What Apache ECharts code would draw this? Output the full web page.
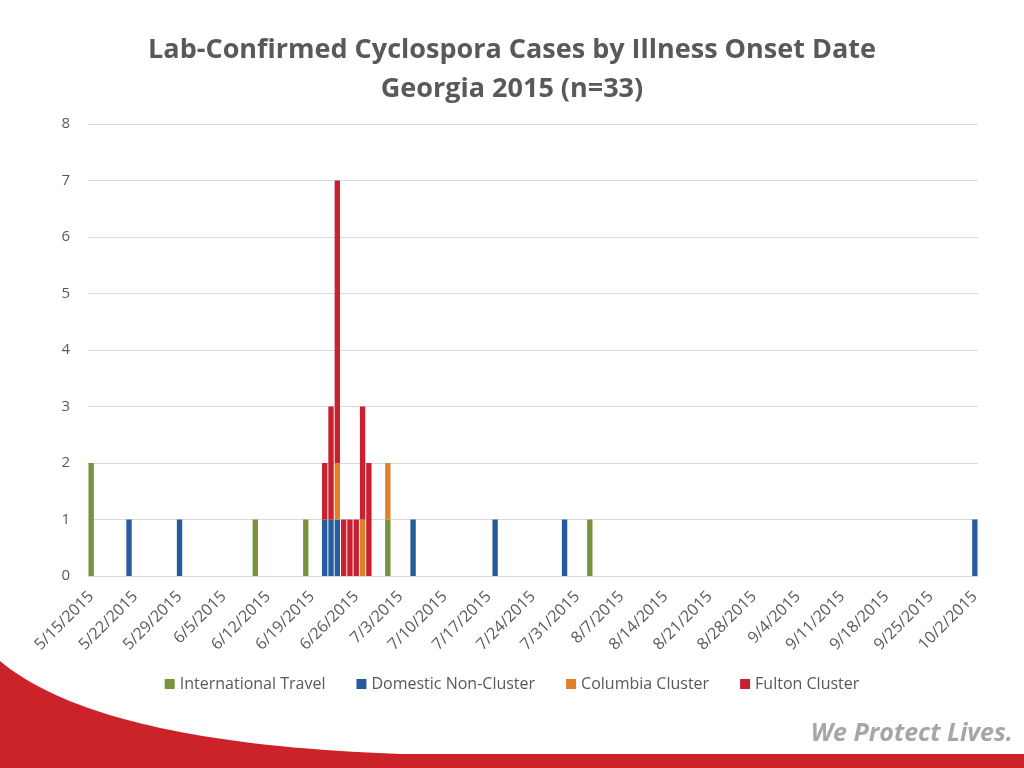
<!DOCTYPE html>
<html>
<head>
<meta charset="utf-8">
<script src="https://cdn.jsdelivr.net/npm/echarts@6/dist/echarts.min.js"></script>
<style>html,body{margin:0;padding:0;background:#fff;}#c{width:1024px;height:768px;}</style>
</head>
<body>
<div id="c"></div>
<script>
// Category range (daily onset dates) and tick labels
const startDate = '5/15/2015';
const endDate = '10/2/2015';
const yTicks = [0, 1, 2, 3, 4, 5, 6, 7, 8];

// Series values: [onset date, cases]
const intlTravel = [['5/15/2015', 2], ['6/10/2015', 1], ['6/18/2015', 1], ['7/1/2015', 1], ['8/2/2015', 1]];
const domesticNonCluster = [['5/21/2015', 1], ['5/29/2015', 1], ['6/21/2015', 1], ['6/22/2015', 1], ['6/23/2015', 1], ['7/5/2015', 1], ['7/18/2015', 1], ['7/29/2015', 1], ['10/2/2015', 1]];
const columbiaCluster = [['6/23/2015', 1], ['6/27/2015', 1], ['7/1/2015', 1]];
const fultonCluster = [['6/21/2015', 1], ['6/22/2015', 2], ['6/23/2015', 5], ['6/24/2015', 1], ['6/25/2015', 1], ['6/26/2015', 1], ['6/27/2015', 2], ['6/28/2015', 2]];

const seriesNames = ['International Travel', 'Domestic Non-Cluster', 'Columbia Cluster', 'Fulton Cluster'];
const seriesColors = ['#77933c', '#275b9c', '#e0812a', '#c8202f'];

function parseMDY(s) { const p = s.split('/').map(Number); return Date.UTC(p[2], p[0] - 1, p[1]); }
function fmt(t) { const d = new Date(t); return (d.getUTCMonth() + 1) + '/' + d.getUTCDate() + '/' + d.getUTCFullYear(); }
const categories = [];
for (let t = parseMDY(startDate); t <= parseMDY(endDate); t += 86400000) categories.push(fmt(t));
function expand(pairs) {
  const arr = categories.map(() => 0);
  pairs.forEach(([d, v]) => { arr[categories.indexOf(d)] = v; });
  return arr;
}
const allData = [intlTravel, domesticNonCluster, columbiaCluster, fultonCluster];

// decorative swoosh outline (slide background)
function swooshPoints() {
  const P = [[0, 661], [60, 711], [180, 746], [400, 754]];
  const pts = [];
  for (let i = 0; i <= 40; i++) {
    const t = i / 40, u = 1 - t;
    const a = u * u * u, b = 3 * u * u * t, c = 3 * u * t * t, d = t * t * t;
    pts.push([a * P[0][0] + b * P[1][0] + c * P[2][0] + d * P[3][0], a * P[0][1] + b * P[1][1] + c * P[2][1] + d * P[3][1]]);
  }
  pts.push([1024, 754], [1024, 768], [0, 768]);
  return pts;
}

const chart = echarts.init(document.getElementById('c'), null, { renderer: 'canvas' });
const FONT = '"Open Sans", "Noto Sans", sans-serif';
chart.setOption({
  animation: false,
  backgroundColor: '#ffffff',
  textStyle: { fontFamily: FONT },
  title: {
    text: 'Lab-Confirmed Cyclospora Cases by Illness Onset Date\nGeorgia 2015 (n=33)',
    left: 'center', top: 26,
    textStyle: { fontFamily: FONT, fontSize: 27, fontWeight: 'bold', color: '#595959', lineHeight: 39 }
  },
  legend: {
    data: seriesNames,
    bottom: 71, left: 'center',
    itemWidth: 10, itemHeight: 10, itemGap: 31,
    icon: 'rect',
    textStyle: { fontFamily: FONT, fontSize: 16, color: '#595959' }
  },
  grid: { left: 88, right: 46, top: 124, bottom: 192, containLabel: false },
  xAxis: {
    type: 'category',
    data: categories,
    axisLine: { lineStyle: { color: '#d9d9d9' } },
    axisTick: { show: false },
    axisLabel: { interval: 6, rotate: 45, fontSize: 16, color: '#595959', margin: 18, fontFamily: FONT }
  },
  yAxis: {
    type: 'value', min: yTicks[0], max: yTicks[yTicks.length - 1], interval: 1,
    axisLine: { show: false }, axisTick: { show: false },
    axisLabel: { fontSize: 15, color: '#595959', margin: 18, fontFamily: FONT },
    splitLine: { lineStyle: { color: '#d9d9d9', width: 1 } }
  },
  series: seriesNames.map((n, i) => ({
    name: n, type: 'bar', stack: 'total',
    data: expand(allData[i]),
    itemStyle: { color: seriesColors[i] },
    barCategoryGap: '15%'
  })),
  graphic: [
    {
      type: 'polygon', z: -10, silent: true,
      shape: { points: swooshPoints() },
      style: { fill: '#cc232a' }
    },
    {
      type: 'text', right: 11, top: 721,
      style: { text: 'We Protect Lives.', font: 'italic bold 25px "Open Sans", sans-serif', fill: '#a6a6a6' }
    }
  ]
});
</script>
</body>
</html>
